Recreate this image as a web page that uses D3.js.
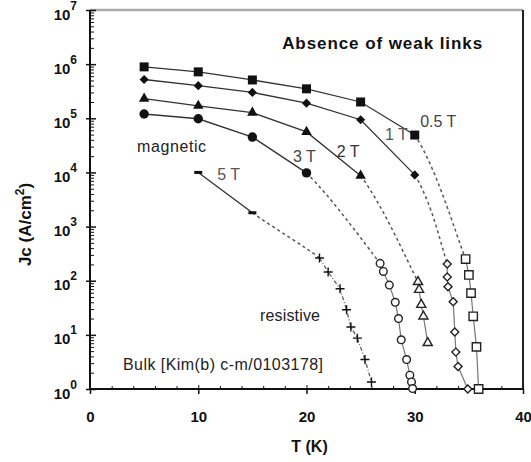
<!DOCTYPE html>
<html>
<head>
<meta charset="utf-8">
<script src="https://cdn.jsdelivr.net/npm/d3@7"></script>
<style>
  body { margin: 0; background: #fff; }
  svg { display: block; font-family: 'Liberation Sans', Arial, sans-serif; }
</style>
</head>
<body>
<div id="chart"></div>
<script>
// magnetic Jc(T), filled markers
const magT = [5, 10, 15, 20, 25, 30];
const mag05 = [8.9e5, 7.2e5, 5.1e5, 3.5e5, 2.0e5, 4.9e4];
const mag1 = [5.2e5, 4.0e5, 3.0e5, 1.9e5, 9.4e4, 9.0e3];
const mag2 = [2.3e5, 1.7e5, 1.27e5, 5.6e4, 8.7e3];
const mag3 = [1.2e5, 9.8e4, 4.5e4, 9.8e3];
const mag5T = [10, 15];
const mag5 = [1.0e4, 1.8e3];

// resistive Jc(T), open markers
const res05T = [34.7, 35.0, 35.2, 35.4, 35.7, 35.9];
const res05 = [251, 128, 59, 22, 6, 1];
const res1T = [33.0, 33.0, 33.07, 33.55, 33.7, 33.8, 34.0, 34.9];
const res1 = [204, 117, 77, 41, 11.3, 4.8, 2.6, 1.0];
const res2T = [30.3, 30.4, 30.6, 30.8, 31.2];
const res2 = [95, 68, 36, 22, 7.1];
const res3T = [26.8, 27.1, 27.65, 28.2, 28.5, 28.75, 29.25, 29.55, 29.7, 29.8];
const res3 = [209, 148, 83, 40, 20, 8.1, 3.5, 1.8, 1.35, 1.02];
const res5T = [21.2, 22.0, 23.1, 23.7, 24.1, 24.7, 25.4, 26.0];
const res5 = [263, 145, 71, 29, 14, 8.7, 3.5, 1.35];

const xTicks = [0, 10, 20, 30, 40];
const yTicks = [1, 1e1, 1e2, 1e3, 1e4, 1e5, 1e6, 1e7];

const W = 531, H = 462;
const margin = { top: 10, right: 8, bottom: 73, left: 90 };

const svg = d3.select('#chart').append('svg')
    .attr('width', W)
    .attr('height', H);

const x = d3.scaleLinear().domain([0, 40]).range([margin.left, W - margin.right]);
const y = d3.scaleLog().domain([1, 1e7]).range([H - margin.bottom, margin.top]);

const zip = (ts, vs) => vs.map((v, i) => [ts[i], v]);

const series = [
    { mag: zip(magT, mag05), res: zip(res05T, res05), shape: 'square' },
    { mag: zip(magT, mag1), res: zip(res1T, res1), shape: 'diamond' },
    { mag: zip(magT, mag2), res: zip(res2T, res2), shape: 'triangle' },
    { mag: zip(magT, mag3), res: zip(res3T, res3), shape: 'circle' },
    { mag: zip(mag5T, mag5), res: zip(res5T, res5), shape: 'dash' }
];

// frame: top and right
svg.append('line')
    .attr('x1', x(0)).attr('x2', x(40))
    .attr('y1', y(1e7)).attr('y2', y(1e7))
    .attr('stroke', '#aaa').attr('stroke-width', 2.5);
svg.append('line')
    .attr('x1', x(40)).attr('x2', x(40))
    .attr('y1', y(1)).attr('y2', y(1e7))
    .attr('stroke', '#222').attr('stroke-width', 2);

const isMajor = d => Math.abs(Math.log10(d) - Math.round(Math.log10(d))) < 1e-9;

// y axis: labels + outer half of major ticks
const yAxisL = svg.append('g')
    .attr('transform', `translate(${x(0)},0)`)
    .call(d3.axisLeft(y).tickValues(yTicks).tickSize(4).tickPadding(9).tickFormat(() => '10'));
yAxisL.select('.domain').remove();
yAxisL.attr('font-family', null).attr('font-size', null);
yAxisL.selectAll('.tick line').attr('stroke', '#111').attr('stroke-width', 1.5);
yAxisL.selectAll('.tick text')
    .attr('font-size', 15)
    .attr('font-weight', 'bold')
    .attr('fill', '#111')
    .attr('dy', 9)
    .each(function (d) {
        d3.select(this).append('tspan')
            .attr('dy', -10)
            .attr('font-size', 12)
            .text(Math.round(Math.log10(d)));
    });

// y axis: inner ticks incl. minor
const yAxisR = svg.append('g')
    .attr('transform', `translate(${x(0)},0)`)
    .call(d3.axisRight(y).tickValues(y.ticks()).tickSize(4).tickFormat(''));
yAxisR.select('.domain').remove();
yAxisR.selectAll('.tick line')
    .attr('x2', d => isMajor(d) ? 6 : 4)
    .attr('stroke', '#111')
    .attr('stroke-width', d => isMajor(d) ? 1.5 : 1);

// x axis: labels + outer half of major ticks
const xAxisB = svg.append('g')
    .attr('transform', `translate(0,${y(1)})`)
    .call(d3.axisBottom(x).tickValues(xTicks).tickSize(5).tickPadding(17));
xAxisB.select('.domain').remove();
xAxisB.attr('font-family', null).attr('font-size', null);
xAxisB.selectAll('.tick line').attr('stroke', '#111').attr('stroke-width', 1.5);
xAxisB.selectAll('.tick text')
    .attr('font-size', 15)
    .attr('font-weight', 'bold')
    .attr('fill', '#111');

// x axis: inner ticks every 2 K
const xAxisT = svg.append('g')
    .attr('transform', `translate(0,${y(1)})`)
    .call(d3.axisTop(x).tickValues(d3.range(0, 41, 2)).tickSize(3).tickFormat(''));
xAxisT.select('.domain').remove();
xAxisT.selectAll('.tick line')
    .attr('y2', d => d % 10 === 0 ? -4 : -3)
    .attr('stroke', '#111');

// axis lines
svg.append('line')
    .attr('x1', x(0)).attr('x2', x(0))
    .attr('y1', y(1)).attr('y2', y(1e7))
    .attr('stroke', '#111').attr('stroke-width', 2);
svg.append('line')
    .attr('x1', x(0)).attr('x2', x(40))
    .attr('y1', y(1)).attr('y2', y(1))
    .attr('stroke', '#111').attr('stroke-width', 2);

// axis titles
const yTitle = svg.append('text')
    .attr('transform', `translate(31,${(y(1) + y(1e7)) / 2 + 25}) rotate(-90)`)
    .attr('text-anchor', 'middle')
    .attr('font-size', 17)
    .attr('font-weight', 'bold')
    .attr('fill', '#111');
yTitle.append('tspan').text('Jc (A/cm');
yTitle.append('tspan').attr('dy', -7).attr('font-size', 12).text('2');
yTitle.append('tspan').attr('dy', 7).text(')');

svg.append('text')
    .attr('x', (x(0) + x(40)) / 2 + 3)
    .attr('y', 452)
    .attr('text-anchor', 'middle')
    .attr('font-size', 16)
    .attr('font-weight', 'bold')
    .attr('fill', '#111')
    .text('T (K)');

const px = d => [x(d[0]), y(d[1])];
const line = d3.line().x(d => x(d[0])).y(d => y(d[1]));

// smooth dashed bridge from last magnetic point to first resistive point
function bridge(a0, a1, b0, b1) {
    const p = d3.path();
    const c1 = [a1[0] + (b0[0] - a0[0]) / 5, a1[1] + (b0[1] - a0[1]) / 5];
    const c2 = [b0[0] - (b1[0] - a1[0]) / 5, b0[1] - (b1[1] - a1[1]) / 5];
    p.moveTo(a1[0], a1[1]);
    p.bezierCurveTo(c1[0], c1[1], c2[0], c2[1], b0[0], b0[1]);
    return p.toString();
}

const lines = svg.append('g').attr('fill', 'none');
series.forEach(s => {
    const m = s.mag, r = s.res;
    lines.append('path')
        .attr('d', line(m))
        .attr('stroke', '#333')
        .attr('stroke-width', 1.3);
    lines.append('path')
        .attr('d', bridge(px(m[m.length - 2]), px(m[m.length - 1]), px(r[0]), px(r[1])))
        .attr('stroke', '#555')
        .attr('stroke-width', 1.5)
        .attr('stroke-dasharray', '3,3');
    lines.append('path')
        .attr('d', line(r))
        .attr('stroke', s.shape === 'dash' ? '#555' : '#777')
        .attr('stroke-width', 1.2)
        .attr('stroke-dasharray', s.shape === 'dash' ? '4,2,1,2' : null);
});

// markers
const symType = { square: d3.symbolSquare, diamond: d3.symbolSquare, triangle: d3.symbolTriangle, circle: d3.symbolCircle };
const fillSize = { square: 81, diamond: 42, triangle: 48, circle: 70 };
const openSize = { square: 70, diamond: 32, triangle: 36, circle: 46 };

const marks = svg.append('g');
series.forEach(s => {
    if (s.shape === 'dash') {
        marks.selectAll(null).data(s.mag).join('rect')
            .attr('x', d => x(d[0]) - 4)
            .attr('y', d => y(d[1]) - 1.5)
            .attr('width', 8)
            .attr('height', 3)
            .attr('fill', '#111');
        marks.selectAll(null).data(s.res).join('path')
            .attr('transform', d => `translate(${x(d[0])},${y(d[1])})`)
            .attr('d', 'M-4.5,0H4.5M0,-4.5V4.5')
            .attr('stroke', '#111')
            .attr('stroke-width', 1.4);
        return;
    }
    const rot = s.shape === 'diamond' ? ' rotate(45)' : '';
    marks.selectAll(null).data(s.mag).join('path')
        .attr('transform', d => `translate(${x(d[0])},${y(d[1])})${rot}`)
        .attr('d', d3.symbol(symType[s.shape], fillSize[s.shape]))
        .attr('fill', '#111');
    marks.selectAll(null).data(s.res).join('path')
        .attr('transform', d => `translate(${x(d[0])},${y(d[1])})${rot}`)
        .attr('d', d3.symbol(symType[s.shape], openSize[s.shape]))
        .attr('fill', '#fff')
        .attr('stroke', '#222')
        .attr('stroke-width', 1.4);
});

// annotations, placed in data units
const notes = [
    { t: 17.75, v: 2.5e6, text: 'Absence of weak links', size: 17, bold: true, len: 200, color: '#111' },
    { t: 30.5, v: 8.6e4, text: '0.5 T', size: 16, color: '#444' },
    { t: 27.25, v: 4.95e4, text: '1 T', size: 16, color: '#555' },
    { t: 22.8, v: 2.4e4, text: '2 T', size: 16, color: '#333' },
    { t: 18.75, v: 2.0e4, text: '3 T', size: 16, color: '#444' },
    { t: 11.75, v: 9.1e3, text: '5 T', size: 16, color: '#555' },
    { t: 4.35, v: 3.0e4, text: 'magnetic', size: 16, len: 69, color: '#222' },
    { t: 15.7, v: 23, text: 'resistive', size: 16, len: 60, color: '#222' },
    { t: 3.05, v: 2.8, text: 'Bulk [Kim(b) c-m/0103178]', size: 16, len: 200, color: '#222' }
];
svg.append('g').selectAll('text').data(notes).join('text')
    .attr('x', d => x(d.t))
    .attr('y', d => y(d.v))
    .attr('dy', '0.35em')
    .attr('font-size', d => d.size)
    .attr('font-weight', d => d.bold ? 'bold' : null)
    .attr('textLength', d => d.len || null)
    .attr('lengthAdjust', 'spacing')
    .attr('fill', d => d.color)
    .text(d => d.text);
</script>
</body>
</html>
